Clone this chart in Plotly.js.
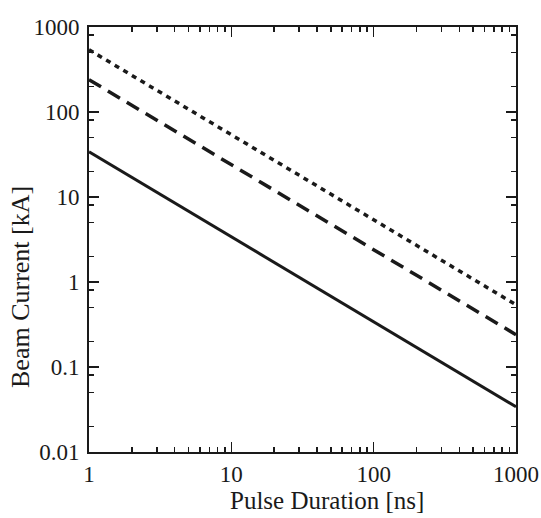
<!DOCTYPE html>
<html><head><meta charset="utf-8">
<script src="https://cdn.plot.ly/plotly-3.0.1.min.js"></script>
<style>html,body{margin:0;padding:0;background:#fff;}#chart{width:541px;height:518px;}</style>
</head><body><div id="chart"></div>
<script>
const pulseDuration = [1, 1000];
const solidCurrent = [34, 0.034];
const dashedCurrent = [240, 0.24];
const dottedCurrent = [540, 0.54];
const xTickVals = [1, 10, 100, 1000];
const xTickText = ['1', '10', '100', '1000'];
const yTickVals = [0.01, 0.1, 1, 10, 100, 1000];
const yTickText = ['0.01', '0.1', '1', '10', '100', '1000'];
const xTitle = 'Pulse Duration [ns]';
const yTitle = 'Beam Current [kA]';
const xMinor = [];
for (const d of [1, 10, 100]) for (let k = 2; k <= 9; k++) xMinor.push(d * k);
const yMinor = [];
for (const d of [0.01, 0.1, 1, 10, 100]) for (const k of [2, 5, 8]) yMinor.push(d * k);

const ink = '#1a1a1a';
const traces = [
  {x: pulseDuration, y: solidCurrent, mode: 'lines', line: {color: ink, width: 3, dash: 'solid'}},
  {x: pulseDuration, y: dashedCurrent, mode: 'lines', line: {color: ink, width: 3.5, dash: '14px,8px'}},
  {x: pulseDuration, y: dottedCurrent, mode: 'lines', line: {color: ink, width: 3.5, dash: '5px,5px'}}
];
const fam = 'Liberation Serif, Times New Roman, DejaVu Serif, serif';
const W = 541, H = 518, L = 89, R = 25, T = 27, B = 66;
const pw = W - L - R, ph = H - T - B;
const layout = {
  width: W, height: H,
  margin: {l: L, r: R, t: T, b: B},
  paper_bgcolor: '#fff', plot_bgcolor: '#fff',
  showlegend: false,
  font: {family: fam, size: 22, color: ink},
  xaxis: {
    type: 'log', range: [0, 3],
    tickmode: 'array', tickvals: xTickVals, ticktext: xTickText,
    ticks: 'inside', ticklen: 10, tickwidth: 1.5, tickcolor: ink,
    mirror: 'ticks', showline: true, linecolor: ink, linewidth: 2,
    showgrid: false, zeroline: false,
    tickfont: {family: fam, size: 23, color: ink},
    minor: {tickmode: 'array', tickvals: xMinor, ticks: 'inside', ticklen: 5, tickwidth: 1.5, tickcolor: ink, showgrid: false}
  },
  yaxis: {
    type: 'log', range: [-2, 3],
    tickmode: 'array', tickvals: yTickVals, ticktext: yTickText,
    ticks: 'inside', ticklen: 10, tickwidth: 1.5, tickcolor: ink,
    mirror: 'ticks', showline: true, linecolor: ink, linewidth: 2,
    showgrid: false, zeroline: false, ticklabelstandoff: 3,
    tickfont: {family: fam, size: 23, color: ink},
    minor: {tickmode: 'array', tickvals: yMinor, ticks: 'inside', ticklen: 5, tickwidth: 1.5, tickcolor: ink, showgrid: false}
  },
  annotations: [
    {text: xTitle, xref: 'paper', yref: 'paper', x: (327 - L) / pw, y: (H - B - 500) / ph,
     xanchor: 'center', yanchor: 'middle', showarrow: false, font: {family: fam, size: 25, color: ink}},
    {text: yTitle, xref: 'paper', yref: 'paper', x: (20 - L) / pw, y: (H - B - 287) / ph,
     xanchor: 'center', yanchor: 'middle', textangle: -90, showarrow: false, font: {family: fam, size: 26, color: ink}}
  ]
};
Plotly.newPlot('chart', traces, layout, {displayModeBar: false, staticPlot: true});
</script></body></html>
